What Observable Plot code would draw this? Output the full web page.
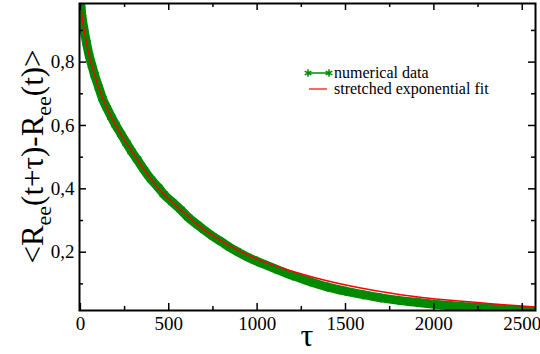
<!DOCTYPE html>
<html>
<head>
<meta charset="utf-8">
<script src="https://cdn.jsdelivr.net/npm/d3@7"></script>
<script src="https://cdn.jsdelivr.net/npm/@observablehq/plot@0.6"></script>
<style>
  html, body { margin: 0; padding: 0; background: #fff; }
  svg { display: block; }
</style>
</head>
<body>
<div id="chart"></div>
<script>
// numerical data (tau, value)
const dataTau = [0, 5, 10, 20, 35, 50, 65, 80, 104, 125, 150, 175, 198, 230, 260, 290, 321, 360, 400, 440, 472, 520, 566, 610, 661, 700, 750, 800, 849, 900, 963, 1000, 1100, 1200, 1300, 1400, 1500, 1600, 1700, 1800, 1900, 2000, 2100, 2200, 2300, 2400, 2500, 2580];
const dataVal = [1.0, 0.965, 0.94, 0.905, 0.86, 0.82, 0.79, 0.76, 0.72, 0.685, 0.655, 0.627, 0.603, 0.573, 0.545, 0.518, 0.493, 0.46, 0.43, 0.405, 0.383, 0.358, 0.335, 0.31, 0.287, 0.27, 0.25, 0.232, 0.214, 0.198, 0.18, 0.171, 0.148, 0.126, 0.107, 0.09, 0.077, 0.066, 0.056, 0.048, 0.042, 0.036, 0.031, 0.027, 0.024, 0.02, 0.017, 0.014];

// stretched exponential fit (tau, value)
const fitTau = [0, 10, 20, 35, 50, 75, 104, 150, 198, 260, 321, 400, 472, 566, 661, 750, 849, 1000, 1246, 1529, 1812, 2095, 2378, 2576];
const fitVal = [1.0, 0.94, 0.905, 0.86, 0.82, 0.77, 0.72, 0.655, 0.603, 0.545, 0.493, 0.43, 0.383, 0.335, 0.288, 0.252, 0.219, 0.178, 0.132, 0.093, 0.066, 0.048, 0.035, 0.027];

const xMajor = [0, 500, 1000, 1500, 2000, 2500];
const xMinor = [250, 750, 1250, 1750, 2250];
const yMajor = [0.2, 0.4, 0.6, 0.8];
const yMinor = [0.1, 0.3, 0.5, 0.7, 0.9];

const seriesNames = ["numerical data", "stretched exponential fit"];

const data = dataTau.map((t, i) => ({t, v: dataVal[i]}));
const fit = fitTau.map((t, i) => ({t, v: fitVal[i]}));

const green = "#008a00";
const red = "#ff0000";
const font = "Liberation Serif";
const fmtY = d => d.toFixed(1).replace(".", ",");

const W = 540, H = 354, mL = 79, mR = 5, mT = 3, mB = 44;
const iw = W - mL - mR, ih = H - mT - mB;

// inward ticks on all four sides
const tickMarks = [];
for (const [vals, len] of [[xMajor, 7], [xMinor, 4]]) {
  tickMarks.push(Plot.tickX(vals, {x: d => d, insetTop: ih - len, stroke: "#000", strokeWidth: 1.5}));
  tickMarks.push(Plot.tickX(vals, {x: d => d, insetBottom: ih - len, stroke: "#000", strokeWidth: 1.5}));
}
for (const [vals, len] of [[yMajor, 7], [yMinor, 4]]) {
  tickMarks.push(Plot.tickY(vals, {y: d => d, insetRight: iw - len, stroke: "#000", strokeWidth: 1.5}));
  tickMarks.push(Plot.tickY(vals, {y: d => d, insetLeft: iw - len, stroke: "#000", strokeWidth: 1.5}));
}

const chart = Plot.plot({
  width: W,
  height: H,
  marginLeft: mL,
  marginRight: mR,
  marginTop: mT,
  marginBottom: mB,
  style: {fontFamily: font, background: "#fff", color: "#000"},
  x: {domain: [-5, 2575]},
  y: {domain: [0.016, 0.985]},
  marks: [
    Plot.line(data, {x: "t", y: "v", stroke: green, strokeWidth: 9, curve: "monotone-x", clip: true}),
    Plot.dot(data, {x: "t", y: "v", symbol: "asterisk", r: 4.5, stroke: green, strokeWidth: 1.5, clip: true}),
    Plot.line(fit, {x: "t", y: "v", stroke: red, strokeWidth: 1.5, curve: "monotone-x", clip: true}),
    ...tickMarks,
    Plot.axisX(xMajor, {anchor: "bottom", tickSize: 0, tickPadding: 6, fontSize: 19, fontFamily: font, label: null, tickFormat: d => String(d)}),
    Plot.axisY(yMajor, {anchor: "left", tickSize: 0, tickPadding: 5, fontSize: 19, fontFamily: font, label: null, tickFormat: fmtY}),
    Plot.frame({stroke: "#000", strokeWidth: 2})
  ]
});

document.getElementById("chart").appendChild(chart);

// axis titles and legend
const svg = d3.select(chart);
svg.attr("font-family", font);
const fL = mL, fR = W - mR, fT = mT, fB = H - mB;

// x title
svg.append("text")
  .attr("x", (fL + fR) / 2).attr("y", 346)
  .attr("text-anchor", "middle")
  .attr("font-family", font).attr("font-size", 32)
  .text("τ");

// y title with subscripts
const yt = svg.append("text")
  .attr("transform", `translate(43,${(fT + fB) / 2}) rotate(-90)`)
  .attr("text-anchor", "middle")
  .attr("font-family", font).attr("font-size", 31);
yt.append("tspan").text("<R");
yt.append("tspan").attr("font-size", 22).attr("dy", 8).text("ee");
yt.append("tspan").attr("dy", -8).text("(t+τ)-R");
yt.append("tspan").attr("font-size", 22).attr("dy", 8).text("ee");
yt.append("tspan").attr("dy", -8).text("(t)>");

// legend
const lg = svg.append("g").attr("font-family", font).attr("font-size", 16).attr("text-anchor", "start");
const star = d3.symbol(d3.symbolAsterisk, 40)();
const r1 = 73, r2 = 89;
lg.append("line").attr("x1", 308).attr("x2", 329).attr("y1", r1).attr("y2", r1).attr("stroke", green).attr("stroke-width", 1.5);
for (const x of [308, 329]) {
  lg.append("path").attr("d", star).attr("transform", `translate(${x},${r1})`).attr("fill", "none").attr("stroke", green).attr("stroke-width", 1.5);
}
lg.append("text").attr("x", 334).attr("y", r1 + 5).attr("text-anchor", "start").text(seriesNames[0]);
lg.append("line").attr("x1", 309).attr("x2", 327).attr("y1", r2).attr("y2", r2).attr("stroke", red).attr("stroke-width", 1.2);
lg.append("text").attr("x", 334).attr("y", r2 + 5).attr("text-anchor", "start").text(seriesNames[1]);
</script>
</body>
</html>
